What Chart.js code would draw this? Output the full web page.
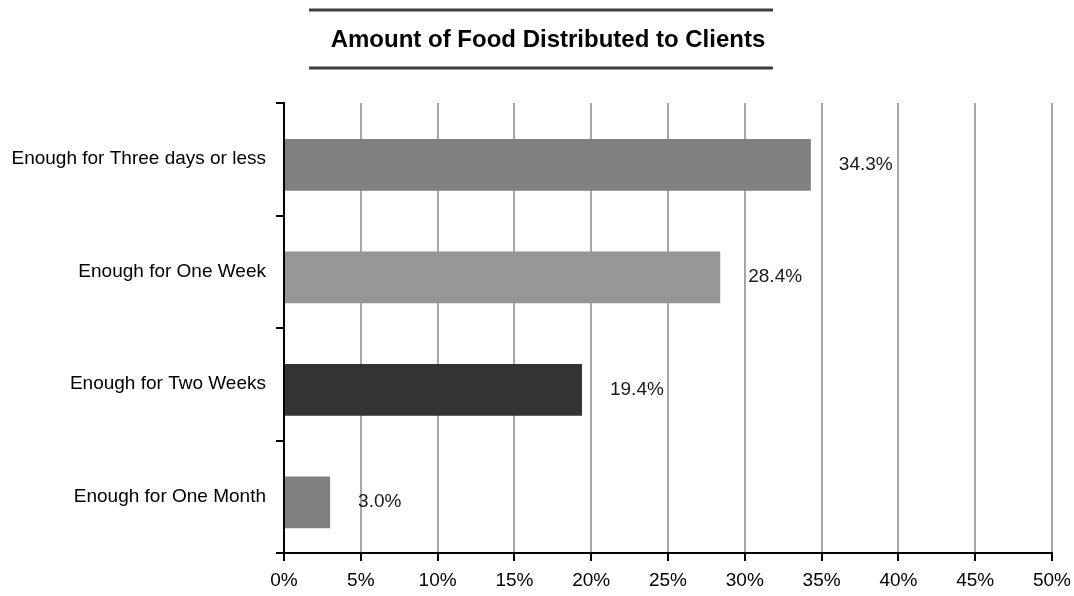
<!DOCTYPE html>
<html>
<head>
<meta charset="utf-8">
<script src="https://cdn.jsdelivr.net/npm/chart.js@4/dist/chart.umd.min.js"></script>
<style>
  html, body { margin: 0; padding: 0; background: #fff; }
  #wrap { width: 1074px; height: 596px; }
</style>
</head>
<body>
<div id="wrap"><canvas id="chart" width="1074" height="596"></canvas></div>
<script>
const FONT = '"Liberation Sans", Arial, sans-serif';

const titleText = 'Amount of Food Distributed to Clients';
const categories = [
  'Enough for Three days or less',
  'Enough for One Week',
  'Enough for Two Weeks',
  'Enough for One Month',
];
const shares = [34.3, 28.4, 19.4, 3.0];
const barColors = ['#808080', '#969696', '#333333', '#808080'];
const xTicks = [0, 5, 10, 15, 20, 25, 30, 35, 40, 45, 50];

// title text with a rule above and below it
const titleBox = {
  id: 'titleBox',
  afterDraw(chart) {
    const { ctx } = chart;
    ctx.save();
    ctx.strokeStyle = '#404040';
    ctx.lineWidth = 3;
    ctx.beginPath();
    ctx.moveTo(309, 10);
    ctx.lineTo(773, 10);
    ctx.moveTo(309, 68);
    ctx.lineTo(773, 68);
    ctx.stroke();
    ctx.font = 'bold 24px ' + FONT;
    ctx.fillStyle = '#000';
    ctx.textAlign = 'center';
    ctx.textBaseline = 'middle';
    ctx.fillText(titleText, 548, 40);
    ctx.restore();
  },
};

// value labels to the right of each bar
const valueLabels = {
  id: 'valueLabels',
  afterDatasetsDraw(chart) {
    const { ctx } = chart;
    const meta = chart.getDatasetMeta(0);
    ctx.save();
    ctx.font = '19px ' + FONT;
    ctx.fillStyle = '#1a1a1a';
    ctx.textAlign = 'left';
    ctx.textBaseline = 'middle';
    meta.data.forEach((bar, i) => {
      ctx.fillText(shares[i].toFixed(1) + '%', bar.x + 28, bar.y);
    });
    ctx.restore();
  },
};

new Chart(document.getElementById('chart'), {
  type: 'bar',
  data: {
    labels: categories,
    datasets: [
      {
        data: shares.map((v, i) => ({ x: v, y: i })),
        yAxisID: 'yBars',
        backgroundColor: barColors,
        borderWidth: 0,
        barPercentage: 0.46,
        categoryPercentage: 1,
      },
    ],
  },
  options: {
    indexAxis: 'y',
    responsive: false,
    animation: false,
    layout: {
      padding: { left: 0, right: 22, top: 103, bottom: 0 },
    },
    plugins: {
      legend: { display: false },
      tooltip: { enabled: false },
      title: { display: false },
    },
    scales: {
      x: {
        type: 'linear',
        min: 0,
        max: 50,
        afterBuildTicks: (scale) => {
          scale.ticks = xTicks.map((v) => ({ value: v }));
        },
        ticks: {
          color: '#000',
          font: { family: FONT, size: 19 },
          padding: 8,
          callback: (v) => v + '%',
        },
        grid: {
          color: '#a6a6a6',
          lineWidth: 2,
          tickColor: '#000',
          tickLength: 8,
        },
        border: { color: '#000', width: 2 },
        afterFit: (scale) => {
          scale.height = 43;
          scale.paddingLeft = 0;
          scale.paddingRight = 0;
        },
      },
      y: {
        type: 'category',
        ticks: {
          color: '#000',
          font: { family: FONT, size: 19 },
          padding: 10,
        },
        grid: {
          display: true,
          drawOnChartArea: false,
          offset: true,
          color: '#000',
          lineWidth: 2,
          tickLength: 8,
        },
        border: { color: '#000', width: 2 },
        afterFit: (scale) => {
          scale.width = 284;
          scale.paddingTop = 0;
          scale.paddingBottom = 0;
        },
      },
      // bars sit a few pixels below the category centres, as in the original
      yBars: {
        type: 'linear',
        display: false,
        reverse: true,
        offset: false,
        min: -0.549,
        max: 3.451,
        grid: { offset: false },
        afterBuildTicks: (scale) => {
          scale.ticks = categories.map((c, i) => ({ value: i }));
        },
      },
    },
  },
  plugins: [titleBox, valueLabels],
});
</script>
</body>
</html>
